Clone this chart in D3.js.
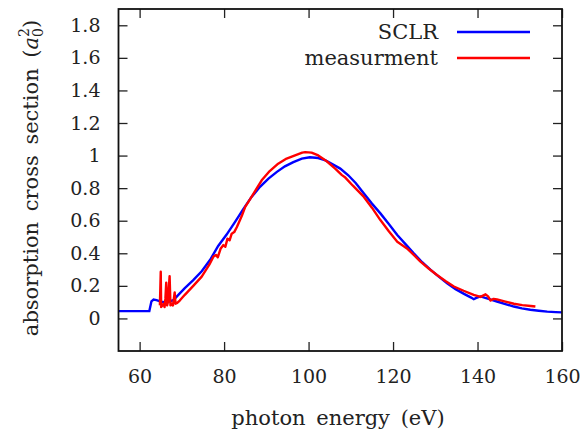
<!DOCTYPE html>
<html><head><meta charset="utf-8">
<script src="https://cdn.jsdelivr.net/npm/d3@7"></script>
<style>
html,body{margin:0;padding:0;background:#fff;}
text{font-family:"DejaVu Serif";fill:#222;}
</style></head>
<body><svg id="c" width="581" height="434"></svg>
<script>
const xTicks=[60,80,100,120,140,160];
const yTicks=[0,0.2,0.4,0.6,0.8,1,1.2,1.4,1.6,1.8];
const seriesNames=["SCLR","measurment"];
const seriesColors=["#0000ff","#ff0000"];
const sclrE=[55,62.3,62.8,63.3,64,65,66,67,68,69,70.7,72.7,74.7,76.7,78.6,80.6,82.6,84.5,86.5,88.5,90.5,92.5,94.4,96.4,98.4,100.3,102.3,104,105.5,107.5,109.4,111.2,113.1,115,117,119,121,123,124.9,126.9,128.9,130.9,132.8,134.8,136.8,138.5,139.1,139.6,140.7,142.6,144.6,146.6,148.6,150.5,152.5,154.5,156.5,158.5,160];
const sclrV=[0.045,0.045,0.105,0.116,0.112,0.103,0.100,0.104,0.112,0.14,0.186,0.235,0.29,0.36,0.445,0.515,0.593,0.67,0.746,0.808,0.859,0.90,0.934,0.96,0.981,0.99,0.985,0.97,0.95,0.92,0.879,0.83,0.767,0.705,0.645,0.58,0.512,0.455,0.40,0.345,0.298,0.255,0.216,0.18,0.151,0.128,0.118,0.125,0.135,0.12,0.104,0.088,0.073,0.062,0.053,0.047,0.042,0.039,0.037];
const measE=[64.8,65.0,65.1,65.4,65.7,65.9,66.1,66.3,66.5,66.7,67.1,67.3,67.6,67.9,68.3,68.5,68.9,69.5,70.7,72.7,74.7,76.5,77.5,78.1,78.5,79.2,79.8,80.3,80.8,81.3,81.8,82.4,83.0,83.4,84.2,85.0,86.5,88.9,90.8,92.8,94.8,96.8,98.5,99.2,100.7,102.3,104.3,106.3,107.9,108.7,110.5,113.1,115,117,119,121,123.3,124.9,126.5,128.5,130.4,132.4,134.4,136.7,139.1,140.7,141.9,142.5,143.1,143.8,144.6,146.6,148.6,150.6,152.6,153.7];
const measV=[0.08,0.287,0.07,0.08,0.09,0.07,0.12,0.22,0.08,0.10,0.26,0.08,0.09,0.08,0.16,0.09,0.095,0.11,0.145,0.2,0.257,0.33,0.38,0.39,0.375,0.43,0.45,0.44,0.49,0.48,0.52,0.53,0.56,0.583,0.63,0.685,0.746,0.848,0.905,0.95,0.982,1.001,1.018,1.021,1.018,1.001,0.965,0.92,0.88,0.865,0.815,0.746,0.68,0.604,0.535,0.471,0.43,0.39,0.349,0.305,0.267,0.23,0.196,0.17,0.145,0.132,0.148,0.135,0.11,0.12,0.117,0.103,0.09,0.082,0.076,0.073];

const FONT='"DejaVu Serif"';
const FS=22, TFS=19;
const svg=d3.select("#c");
const L=118.5,R=562,T=9,B=351;
const x=d3.scaleLinear().domain([55,160]).range([L,R]);
const y=d3.scaleLinear().domain([-0.2,1.9]).range([B,T]);
const tl=9;
const g=svg.append("g");
g.append("g").attr("transform",`translate(0,${B})`).call(d3.axisBottom(x).tickValues(xTicks).tickSize(-tl).tickSizeOuter(0).tickPadding(tl+10).tickFormat(d3.format("d")));
g.append("g").attr("transform",`translate(0,${T})`).call(d3.axisTop(x).tickValues(xTicks).tickSize(-tl).tickSizeOuter(0).tickFormat(""));
g.append("g").attr("transform",`translate(${L},0)`).call(d3.axisLeft(y).tickValues(yTicks).tickSize(-tl).tickSizeOuter(0).tickPadding(tl+9).tickFormat(d=>d===0||d===1?String(d):d.toFixed(1)));
g.append("g").attr("transform",`translate(${R},0)`).call(d3.axisRight(y).tickValues(yTicks).tickSize(-tl).tickSizeOuter(0).tickFormat(""));
g.selectAll("g").attr("font-family",FONT);
g.selectAll(".domain").remove();
g.selectAll(".tick line").attr("stroke","#222").attr("stroke-width",1.3);
g.selectAll(".tick text").attr("font-size",TFS).attr("fill","#222").attr("font-family",FONT);

const line=d3.line().x(d=>x(d[0])).y(d=>y(d[1]));
svg.append("clipPath").attr("id","cp").append("rect").attr("x",L).attr("y",T).attr("width",R-L).attr("height",B-T);
svg.append("path").datum(sclrE.map((e,i)=>[e,sclrV[i]])).attr("d",line).attr("fill","none").attr("stroke",seriesColors[0]).attr("stroke-width",2.4).attr("clip-path","url(#cp)");
svg.append("path").datum(measE.map((e,i)=>[e,measV[i]])).attr("d",line).attr("fill","none").attr("stroke",seriesColors[1]).attr("stroke-width",2.4).attr("stroke-linejoin","round").attr("clip-path","url(#cp)");

svg.append("rect").attr("x",L).attr("y",T).attr("width",R-L).attr("height",B-T).attr("fill","none").attr("stroke","#111").attr("stroke-width",1.8);

const leg=[{n:seriesNames[0],c:seriesColors[0],y:32},{n:seriesNames[1],c:seriesColors[1],y:58}];
leg.forEach(d=>{
  svg.append("text").attr("x",438).attr("y",d.y+7).attr("text-anchor","end").attr("font-size",FS-1).attr("font-family",FONT).text(d.n);
  svg.append("line").attr("x1",457).attr("x2",530).attr("y1",d.y).attr("y2",d.y).attr("stroke",d.c).attr("stroke-width",2.4);
});

svg.append("text").attr("x",338).attr("y",425).attr("text-anchor","middle").attr("font-size",FS-1).attr("word-spacing",4).attr("font-family",FONT).text("photon energy (eV)");
const yl=svg.append("text").attr("transform","translate(38,178) rotate(-90)").attr("text-anchor","middle").attr("font-size",FS-1).attr("word-spacing",4).attr("font-family",FONT);
yl.append("tspan").text("absorption cross section (");
yl.append("tspan").attr("font-style","italic").text("a");
yl.append("tspan").attr("font-size",14).attr("dy",-9).text("2");
yl.append("tspan").attr("font-size",14).attr("dx",-9).attr("dy",14).text("0");
yl.append("tspan").attr("dy",-5).text(")");
</script></body></html>
